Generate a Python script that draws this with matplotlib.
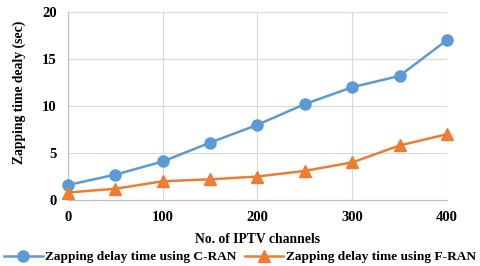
import matplotlib
matplotlib.use("Agg")
import matplotlib.pyplot as plt

channels = [0, 50, 100, 150, 200, 250, 300, 350, 400]
cran = [1.6, 2.7, 4.1, 6.1, 8.0, 10.2, 12.0, 13.2, 17.0]
fran = [0.8, 1.2, 2.0, 2.2, 2.5, 3.1, 4.0, 5.8, 7.0]
xticks = [0, 100, 200, 300, 400]
yticks = [0, 5, 10, 15, 20]

plt.rcParams['font.family'] = ['Liberation Serif', 'DejaVu Serif']
plt.rcParams['font.weight'] = 'bold'

fig = plt.figure(figsize=(4.8, 2.66), dpi=100)
ax = fig.add_axes([0.1417, 0.248, 0.7893, 0.707])

ax.plot(channels, cran, color='#5B9BD5', marker='o', markersize=8, linewidth=1.8,
        label='Zapping delay time using C-RAN', zorder=3, clip_on=False)
ax.plot(channels, fran, color='#ED7D31', marker='^', markersize=8, linewidth=1.8,
        label='Zapping delay time using F-RAN', zorder=3, clip_on=False)

ax.set_xlim(0, 400)
ax.set_ylim(0, 20)
ax.set_xticks(xticks)
ax.set_yticks(yticks)
ax.grid(True, color='#D9D9D9', linewidth=0.8)
ax.set_axisbelow(True)
for s in ['top', 'right']:
    ax.spines[s].set_visible(False)
for s in ['left', 'bottom']:
    ax.spines[s].set_color('#BFBFBF')
ax.tick_params(length=0, labelsize=10.5, pad=8)
for lbl in ax.get_xticklabels() + ax.get_yticklabels():
    lbl.set_fontweight('bold')

ax.set_xlabel('No. of IPTV channels', fontsize=9.8, fontweight='bold')
ax.set_ylabel('Zapping time dealy (sec)', fontsize=9.8, fontweight='bold')
ax.xaxis.set_label_coords(0.5, -0.175)
ax.yaxis.set_label_coords(-0.11, 0.574)

fig.legend(loc='lower center', bbox_to_anchor=(0.5, -0.035), ncol=2, frameon=False,
           handlelength=2.9, columnspacing=0.6, handletextpad=0.2,
           prop={'weight': 'bold', 'size': 9.6})

fig.savefig('out.png', dpi=100)
